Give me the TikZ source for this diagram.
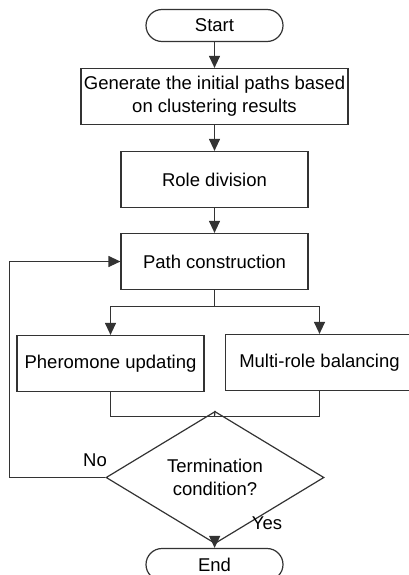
\documentclass[tikz,border=0pt]{standalone}
\usepackage{fontspec}
\setmainfont{Liberation Sans}
\usetikzlibrary{arrows.meta,shapes.geometric}

\begin{document}
\begin{tikzpicture}[x=1pt,y=-1pt,
    line width=1.2pt, draw=black!80,
    font=\fontsize{18.5}{23}\selectfont,
    flow/.style={-{Triangle[length=12pt,width=11pt]}},
    box/.style={draw, minimum width=187pt, minimum height=56pt, inner sep=0pt, align=center},
    term/.style={draw, rounded corners=16pt, minimum width=137pt, minimum height=32pt, inner sep=0pt},
    decide/.style={draw, diamond, minimum width=218pt, minimum height=88pt, inner sep=0pt, align=center}]
    \useasboundingbox (0,0) rectangle (409,575);

    \node[term] (start) at (214.5,25.5) {Start};
    \node[box, minimum width=267pt] (init) at (214.5,96.5) {Generate the initial paths based\\on clustering results};
    \node[box] (role) at (214.5,179.5) {Role division};
    \node[box] (path) at (214.5,261.5) {Path construction};
    \node[box] (phero) at (110.5,363.5) {Pheromone updating};
    \node[box, minimum width=188pt] (multi) at (319.5,362.5) {Multi-role balancing};
    \node[decide] (stop) at (215,477.5) {Termination\\condition?};
    \node[term] (end) at (214.5,564.5) {End};
    \node (no) at (95,460) {No};
    \node (yes) at (267,523) {Yes};

    \coordinate (split) at (214.5,306.5);
    \coordinate (join) at (214.5,416.5);
    \coordinate (loop) at (9.5,477.5);

    \draw[flow] (start) -- (init);
    \draw[flow] (init) -- (role);
    \draw[flow] (role) -- (path);
    \draw (path) -- (split);
    \draw[flow] (split) -| (phero);
    \draw[flow] (split) -| (multi);
    \draw (phero.south) |- (join) -| (multi.south);
    \draw (join) -- (stop.north);
    \draw[flow] (stop) -- (end);
    % back to path construction
    \draw[flow] (stop.west) -- (loop) |- (path.west);
\end{tikzpicture}
\end{document}
